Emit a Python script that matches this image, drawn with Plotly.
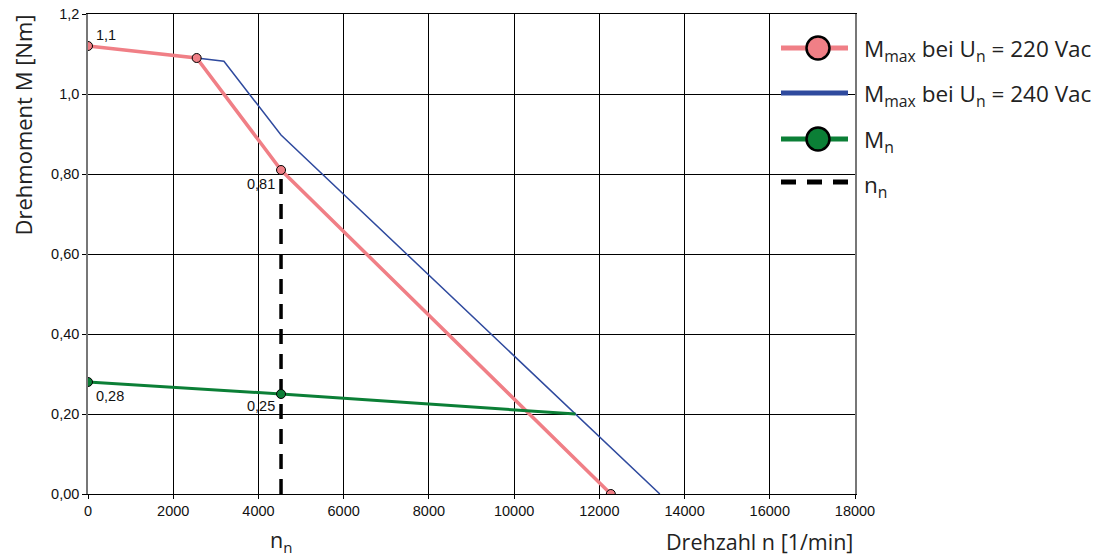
import plotly.graph_objects as go

# Speed values [1/min] and torque values [Nm]
mmax220_n = [0, 2550, 4530, 12270]
mmax220_m = [1.12, 1.09, 0.81, 0.0]

mmax240_n = [2550, 3190, 4530, 13420]
mmax240_m = [1.09, 1.082, 0.8975, 0.0]

mn_n = [0, 4530, 11440]
mn_m = [0.28, 0.25, 0.20]

# Nominal speed marker
nn_speed = 4530
nn_torque_top = 0.81

# Points carrying a value label and their decimal places
lbl_n = [0, 4530, 0, 4530]
lbl_m = [1.12, 0.81, 0.28, 0.25]
lbl_dec = [1, 2, 2, 2]

x_ticks = [0, 2000, 4000, 6000, 8000, 10000, 12000, 14000, 16000, 18000]
y_ticks = [0.0, 0.2, 0.4, 0.6, 0.8, 1.0, 1.2]
y_ticktext = ["0,00", "0,20", "0,40", "0,60", "0,80", "1,0", "1,2"]

legend_names = [
    "M<sub>max</sub> bei U<sub>n</sub> = 220 Vac",
    "M<sub>max</sub> bei U<sub>n</sub> = 240 Vac",
    "M<sub>n</sub>",
    "n<sub>n</sub>",
]

RED = "#F07F86"
BLUE = "#2F4A9E"
GREEN = "#0B7F36"

TICK_FONT = dict(family="Liberation Sans, Arial, sans-serif", size=14.5, color="#111")
TITLE_FONT = dict(family="Open Sans, sans-serif", size=21.5, color="#222")
LEGEND_FONT = dict(family="Open Sans, sans-serif", size=22.5, color="#222")

# Plot area in pixels (used for legend placement in paper units)
W, H = 1108, 556
ML, MR, MT, MB = 88, 253, 14, 62
PW, PH = W - ML - MR, H - MT - MB


def px_x(px):
    return (px - ML) / PW


def px_y(py):
    return (H - MB - py) / PH


fig = go.Figure()

fig.add_trace(go.Scatter(x=mmax240_n, y=mmax240_m, mode="lines",
                         line=dict(color=BLUE, width=1.5), showlegend=False))
fig.add_trace(go.Scatter(x=[nn_speed, nn_speed], y=[0, nn_torque_top], mode="lines",
                         line=dict(color="black", width=3.5, dash="15px,10px"), showlegend=False))
fig.add_trace(go.Scatter(x=mmax220_n, y=mmax220_m, mode="lines+markers",
                         line=dict(color=RED, width=3.5),
                         marker=dict(size=9, color=RED, line=dict(color="black", width=1)),
                         showlegend=False))
fig.add_trace(go.Scatter(x=mn_n, y=mn_m, mode="lines",
                         line=dict(color=GREEN, width=3), showlegend=False))
fig.add_trace(go.Scatter(x=mn_n[:2], y=mn_m[:2], mode="markers",
                         marker=dict(size=9, color=GREEN, line=dict(color="black", width=1)),
                         showlegend=False))

annotations = []

# Value labels next to the marked points
lbl_offsets = [("left", 6, 11), ("right", -4, -14), ("left", 6, -14), ("right", -4, -12)]
for n, m, d, (anc, dx, dy) in zip(lbl_n, lbl_m, lbl_dec, lbl_offsets):
    annotations.append(dict(
        x=n, y=m, xref="x", yref="y", text=f"{m:.{d}f}".replace(".", ","),
        showarrow=False, xanchor=anc, yanchor="middle", xshift=dx, yshift=dy,
        font=dict(family="Liberation Sans, Arial, sans-serif", size=14.5, color="#111")))

# Axis titles
annotations += [
    dict(text="Drehmoment M [Nm]", textangle=-90, xref="paper", yref="paper",
         x=px_x(23), y=px_y(13), xanchor="center", yanchor="top",
         showarrow=False, font=dict(family="Open Sans, sans-serif", size=22, color="#222")),
    dict(text="Drehzahl n [1/min]", xref="paper", yref="paper",
         x=px_x(855), y=px_y(525), xanchor="right", yanchor="top",
         showarrow=False, font=TITLE_FONT),
    dict(text="n<sub>n</sub>", xref="x", yref="paper",
         x=nn_speed, y=px_y(523), xanchor="center", yanchor="top",
         showarrow=False, font=TITLE_FONT),
]

# Legend drawn beside the right edge of the plot
shapes = []
row_y = [48, 93, 139, 182]
sym_x0, sym_x1, dot_x = 781, 848, 818
for i, (name, py) in enumerate(zip(legend_names, row_y)):
    y = px_y(py)
    if i == 0 or i == 2:
        col = RED if i == 0 else GREEN
        shapes.append(dict(type="line", xref="paper", yref="paper",
                           x0=px_x(sym_x0), x1=px_x(sym_x1), y0=y, y1=y,
                           line=dict(color=col, width=5)))
        shapes.append(dict(type="circle", xref="paper", yref="paper",
                           xsizemode="pixel", ysizemode="pixel",
                           xanchor=px_x(dot_x), yanchor=y,
                           x0=-11.5, x1=11.5, y0=-11.5, y1=11.5,
                           fillcolor=col, line=dict(color="black", width=2.5)))
    elif i == 1:
        shapes.append(dict(type="line", xref="paper", yref="paper",
                           x0=px_x(sym_x0), x1=px_x(sym_x1), y0=y, y1=y,
                           line=dict(color=BLUE, width=5)))
    else:
        shapes.append(dict(type="line", xref="paper", yref="paper",
                           x0=px_x(sym_x0), x1=px_x(sym_x1), y0=y, y1=y,
                           line=dict(color="black", width=5, dash="15px,11px")))
    annotations.append(dict(text=name, xref="paper", yref="paper",
                            x=px_x(862), y=y, xanchor="left", yanchor="middle",
                            yshift=-2 if i < 3 else -4,
                            showarrow=False, font=LEGEND_FONT))

fig.update_layout(
    width=W, height=H,
    margin=dict(l=ML, r=MR, t=MT, b=MB, autoexpand=False),
    plot_bgcolor="white", paper_bgcolor="white",
    showlegend=False,
    annotations=annotations,
    shapes=shapes,
)

fig.update_xaxes(range=[0, 18000], tickvals=x_ticks, ticktext=[str(v) for v in x_ticks],
                 showgrid=True, gridcolor="black", gridwidth=1, zeroline=False,
                 showline=True, linecolor="black", linewidth=1, mirror=True,
                 ticks="outside", ticklen=4, tickcolor="black", tickfont=TICK_FONT,
                 automargin=False)
fig.update_yaxes(range=[0, 1.2], tickvals=y_ticks, ticktext=y_ticktext,
                 showgrid=True, gridcolor="black", gridwidth=1, zeroline=False,
                 showline=True, linecolor="#777", linewidth=1.5, mirror=True,
                 ticks="outside", ticklen=4, tickcolor="black", tickfont=TICK_FONT,
                 automargin=False)

fig.write_html("out.html")
